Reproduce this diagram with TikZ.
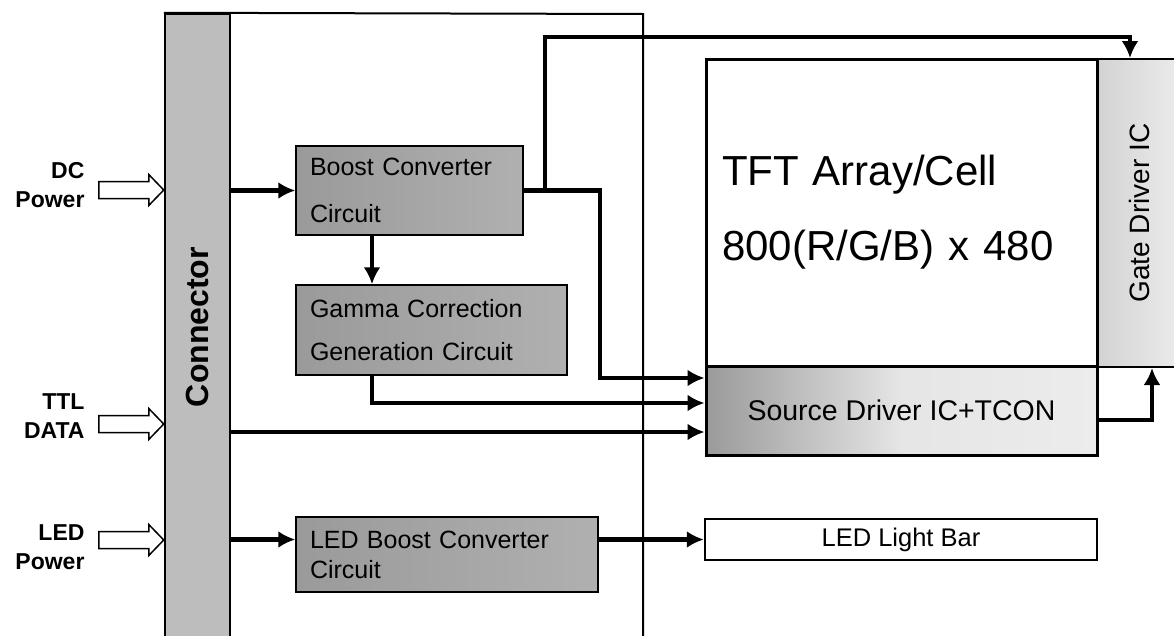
\documentclass[tikz,border=0pt]{standalone}
\usepackage{fontspec}
\setmainfont{Liberation Sans}
\usepackage{xcolor}
\definecolor{vizBar}{HTML}{BDBDBD}
\definecolor{vizDark}{HTML}{9A9A9A}
\definecolor{vizMid}{HTML}{B0B0B0}
\definecolor{vizLight}{HTML}{ECECEC}
\usetikzlibrary{arrows.meta}

\tikzset{
  sig/.style={line width=4.5pt, -{Latex[length=17pt,width=17pt]}},
  block/.style={draw, line width=1.5pt, inner ysep=0pt, align=left,
    left color=vizDark, right color=vizMid},
  inarrow/.pic={
    \draw[line width=1.5pt, fill=white] (0,0) -- (-15,-15.5) -- (-15,-8.5) -- (-65,-8.5)
      -- (-65,8.5) -- (-15,8.5) -- (-15,15.5) -- cycle;
  },
  inlabel/.style={align=right, font=\bfseries\fontsize{23}{29}\selectfont}
}

\begin{document}
\begin{tikzpicture}[x=1pt, y=-1pt]
  \useasboundingbox (0,0) rectangle (1174,635);
  \clip (0,0) rectangle (1174,635);

  % connector bar and board
  \node[draw, line width=2.5pt, fill=vizBar, minimum width=65pt, minimum height=626pt,
    inner sep=0pt, label={[rotate=90, font=\bfseries\fontsize{32}{36}\selectfont]center:Connector}]
    (conn) at (197.5,327) {};
  \draw[line width=2pt] (conn.north west) -- (643,14) -- (643,640);

  % inputs
  \node[inlabel, anchor=east] (dclbl) at (88,185.5) {DC\\Power};
  \pic at (conn.west |- 0,190) {inarrow};
  \node[inlabel, anchor=east] (ttllbl) at (88,416) {TTL\\DATA};
  \pic at (conn.west |- 0,424) {inarrow};
  \node[inlabel, anchor=east] (ledlbl) at (88,547.5) {LED\\Power};
  \pic at (conn.west |- 0,540) {inarrow};

  % circuit blocks
  \node[block, minimum height=89pt, text width=199pt, inner xsep=14pt,
    font=\fontsize{25}{47}\selectfont] (boost) at (409.5,190.5) {Boost Converter\\Circuit};
  \node[block, minimum height=90pt, text width=243pt, inner xsep=14pt,
    font=\fontsize{25}{43}\selectfont] (gamma) at (431.5,330) {Gamma Correction\\Generation Circuit};
  \node[block, minimum height=75pt, text width=274pt, inner xsep=14pt,
    font=\fontsize{25}{30}\selectfont] (ledboost) at (447,554.5) {LED Boost Converter\\Circuit};

  % panel
  \node[draw, line width=2pt, left color=gray!35, right color=vizLight, minimum width=84pt,
    minimum height=308pt, inner sep=0pt,
    label={[rotate=90, font=\fontsize{28}{32}\selectfont]center:Gate Driver IC}]
    (gate) at (1139,213) {};
  \node[draw, line width=3pt, fill=white, minimum width=391pt, minimum height=307pt,
    text width=359pt, inner xsep=16pt, align=left,
    font=\fontsize{42}{75}\selectfont] (tft) at (901.5,212.5) {TFT Array/Cell\\800(R/G/B) x 480};
  \node[draw, line width=3pt, left color=vizDark, right color=vizLight, middle color=gray!20,
    minimum width=391pt, minimum height=89pt,
    font=\fontsize{28.5}{34}\selectfont] (source) at (901.5,410.5) {Source Driver IC+TCON};
  \node[draw, line width=2.5pt, fill=white, minimum width=392pt, minimum height=41pt,
    font=\fontsize{25.5}{30}\selectfont] (ledbar) at (901,539.5) {LED Light Bar};

  % signal routes
  \coordinate (s1) at ([yshift=32.5pt]source.west);
  \coordinate (s2) at ([yshift=7.5pt]source.west);
  \coordinate (s3) at ([yshift=-21.5pt]source.west);
  \coordinate (gtop) at ([xshift=-9pt]gate.north);
  \coordinate (gbot) at ([xshift=13pt]gate.south);
  \coordinate (tap) at ([xshift=-37.5pt]boost.south);

  \draw[sig] (conn.east |- boost.west) -- (boost.west);
  \draw[sig] (tap) -- (tap |- gamma.north);
  \draw[sig] (boost.east) -- ++(76,0) |- (s1);
  \draw[sig] ([xshift=21pt]boost.east) -- ++(0,-153.5) -| (gtop);
  \draw[sig] (tap |- gamma.south) |- (s2);
  \draw[sig] (conn.east |- s3) -- (s3);
  \draw[sig] ([yshift=-9.5pt]source.east) -| (gbot);
  \draw[sig] (conn.east |- ledbar.west) -- (ledboost.west |- ledbar.west);
  \draw[sig] (ledboost.east |- ledbar.west) -- (ledbar.west);
\end{tikzpicture}
\end{document}
